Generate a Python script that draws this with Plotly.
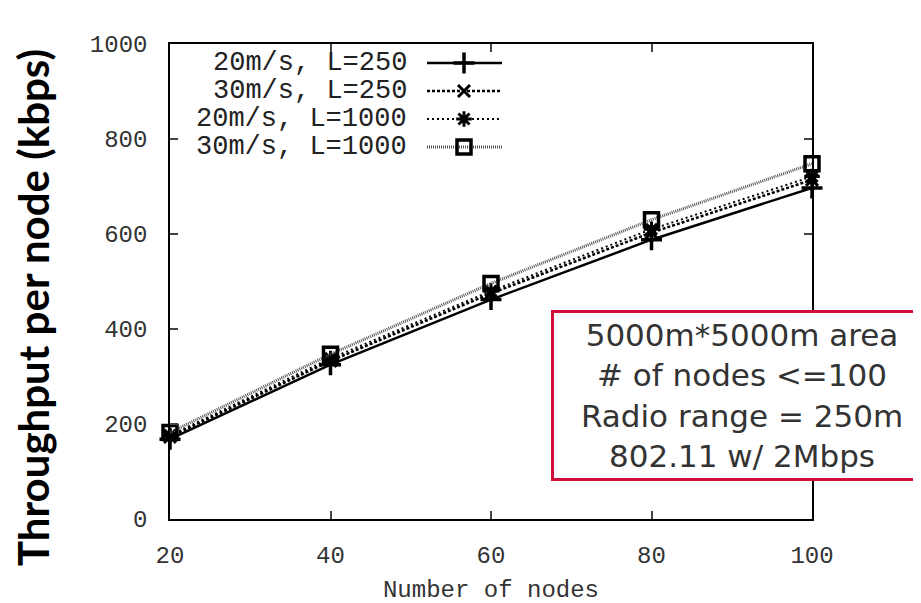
import plotly.graph_objects as go

nodes = [20, 40, 60, 80, 100]
s1_name = "20m/s, L=250"
s1 = [168, 325, 462, 588, 697]
s2_name = "30m/s, L=250"
s2 = [173, 333, 475, 603, 714]
s3_name = "20m/s, L=1000"
s3 = [176, 338, 480, 610, 721]
s4_name = "30m/s, L=1000"
s4 = [182, 347, 496, 630, 748]

x_ticks = [20, 40, 60, 80, 100]
y_ticks = [0, 200, 400, 600, 800, 1000]
note_lines = ["5000m*5000m area", "# of nodes <=100", "Radio range = 250m", "802.11 w/ 2Mbps"]

styles = [
    dict(name=s1_name, y=s1, line=dict(color="black", width=2.5, dash="solid"),
         marker=dict(symbol="cross-thin-open", size=15, color="black", line=dict(color="black", width=3.5))),
    dict(name=s2_name, y=s2, line=dict(color="black", width=2.5, dash="3px,2px"),
         marker=dict(symbol="x-thin-open", size=12, color="black", line=dict(color="black", width=3))),
    dict(name=s3_name, y=s3, line=dict(color="black", width=2, dash="2px,3px"),
         marker=dict(symbol="asterisk-open", size=13, color="black", line=dict(color="black", width=3))),
    dict(name=s4_name, y=s4, line=dict(color="#555555", width=3, dash="1px,1px"),
         marker=dict(symbol="square-open", size=14, color="black", line=dict(color="black", width=3.5))),
]

# page offset of the plot div (body margin)
OFF = 8
L, R, T, B = 170 - OFF, 109 + OFF, 44 - OFF, 84 + OFF
PW, PH = 921 - L - R, 603 - T - B

fig = go.Figure()
for st in styles:
    fig.add_trace(go.Scatter(x=nodes, y=st["y"], mode="lines+markers", name=st["name"],
                             line=st["line"], marker=st["marker"], showlegend=False,
                             cliponaxis=False))

# custom legend (text right-aligned, sample on the right), drawn on an overlay axis
def px_x(p):
    return (p - 170) / PW

def px_y(p):
    return (519 - p) / PH

leg_rows = [63, 91, 119, 147]
for i, st in enumerate(styles):
    yy = px_y(leg_rows[i])
    fig.add_trace(go.Scatter(x=[px_x(427), px_x(464), px_x(502)], y=[yy] * 3, xaxis="x2", yaxis="y2",
                             mode="lines", line=st["line"], showlegend=False, hoverinfo="skip"))
    fig.add_trace(go.Scatter(x=[px_x(464)], y=[yy], xaxis="x2", yaxis="y2",
                             mode="markers", marker=st["marker"], showlegend=False, hoverinfo="skip"))
    fig.add_annotation(x=px_x(409), y=yy, xref="x2", yref="y2", text=st["name"],
                       showarrow=False, xanchor="right", yanchor="middle",
                       font=dict(family="Liberation Mono", size=27, color="#222"))

mono = dict(family="Liberation Mono", size=24, color="#333")
fig.update_layout(
    width=921, height=603,
    margin=dict(l=L, r=R, t=T, b=B),
    paper_bgcolor="white", plot_bgcolor="white",
    xaxis=dict(range=[20, 100], tickvals=x_ticks, ticks="inside", ticklen=8, tickwidth=1.5,
               showline=True, linewidth=1.5, linecolor="black", mirror="ticks",
               showgrid=False, zeroline=False, tickfont=mono, ticklabelstandoff=13,
               title=dict(text="Number of nodes", font=dict(family="Liberation Mono", size=24, color="#333"),
                          standoff=12)),
    yaxis=dict(range=[0, 1000], tickvals=y_ticks, ticks="inside", ticklen=8, tickwidth=1.5,
               showline=True, linewidth=1.5, linecolor="black", mirror="ticks",
               showgrid=False, zeroline=False, tickfont=mono, ticklabelstandoff=16),
    xaxis2=dict(range=[0, 1], overlaying="x", visible=False, fixedrange=True),
    yaxis2=dict(range=[0, 1], overlaying="y", visible=False, fixedrange=True),
)

fig.add_annotation(x=px_x(33), y=px_y(308), xref="paper", yref="paper",
                   text="<b>Throughput per node (kbps)</b>", textangle=-90, showarrow=False,
                   xanchor="center", yanchor="middle",
                   font=dict(family="Lato", size=42, color="black"))

fig.add_annotation(x=px_x(742), y=px_y(395), xref="paper", yref="paper",
                   text="<br>".join(note_lines), showarrow=False, align="center",
                   xanchor="center", yanchor="middle",
                   width=374, height=163,
                   bordercolor="#D0103A", borderwidth=3, bgcolor="white",
                   font=dict(family="DejaVu Sans", size=31, color="#333333"))

fig.write_html("out.html")
